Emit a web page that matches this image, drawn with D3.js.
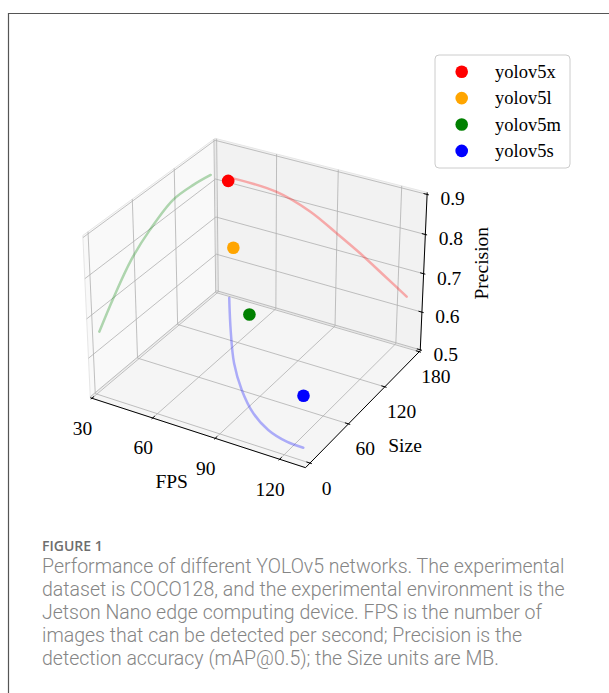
<!DOCTYPE html>
<meta charset="UTF-8">
<style>
body { margin: 0; background: #fff; }
.tick text, .lbl { font: 19.5px "Liberation Serif", "Times New Roman", serif; fill: #000; }
.legend text { font: 18.5px "Liberation Serif", "Times New Roman", serif; fill: #000; }
.caption { font-family: Roboto, "Open Sans", sans-serif; fill: #858585; font-size: 19.5px; font-weight: 300; }
.caption-title { font-family: "Open Sans", sans-serif; fill: #6e6e6e; font-size: 14px; font-weight: 600; }
.grid { stroke: #b0b0b0; stroke-width: 0.8; fill: none; }
.axis-line { stroke: #000; stroke-width: 1; fill: none; }
</style>
<body>
<script src="https://d3js.org/d3.v7.min.js"></script>
<script>

// models and their measured values
var models = ["yolov5x", "yolov5l", "yolov5m", "yolov5s"];
var colors = ["red", "orange", "green", "blue"];
var fps = [38.2, 67.8, 91.0, 124.2];
var sizeMB = [174, 90, 41, 14.4];
var precision = [0.817, 0.799, 0.737, 0.630];

// fitted curves drawn on the walls
var redFps = [38.3, 60.1, 76.7, 89.9, 101.4, 112.8, 124.3];
var redPrec = [0.814, 0.8085, 0.781, 0.743, 0.708, 0.669, 0.629];
var greenSize = [9.0, 29.7, 55.6, 83.0, 117.4, 147.8, 174.3];
var greenPrec = [0.644, 0.6996, 0.759, 0.798, 0.829, 0.828, 0.820];
var blueFps = [37.1, 51.9, 67.3, 80.9, 94.1, 105.6, 116.3, 124.2];
var blueSize = [177.6, 134.0, 91.5, 60.8, 36.8, 22.6, 15.9, 15.1];

// ticks
var fpsTicks = [30, 60, 90, 120];
var sizeTicks = [0, 60, 120, 180];
var precTicks = [0.5, 0.6, 0.7, 0.8, 0.9];

var captionLines = [
  "Performance of different YOLOv5 networks. The experimental",
  "dataset is COCO128, and the experimental environment is the",
  "Jetson Nano edge computing device. FPS is the number of",
  "images that can be detected per second; Precision is the",
  "detection accuracy (mAP@0.5); the Size units are MB."
];

// pane extents (axis limits incl. the small 3d padding)
var xPane = [29.2, 131.8],
    yPane = [-6.8, 181.7],
    zPane = [0.4975, 0.905];

var W = 609, H = 693;
var svg = d3.select("body").append("svg")
    .attr("width", W).attr("height", H);

// ---------- 3d projection (same maths as mplot3d) ----------
var view = {elev: 30, azim: -60, dist: 10};
var aspect = [4, 4, 3];
var an = Math.hypot(aspect[0], aspect[1], aspect[2]);
var box = aspect.map(function(a) { return a * 1.8294640721620434 / an; });
var R = box.map(function(b) { return b / 2; });

function dot(a, b) { return a[0]*b[0] + a[1]*b[1] + a[2]*b[2]; }
function cross(a, b) {
  return [a[1]*b[2] - a[2]*b[1], a[2]*b[0] - a[0]*b[2], a[0]*b[1] - a[1]*b[0]];
}
function unit(a) { var l = Math.hypot(a[0], a[1], a[2]); return a.map(function(c) { return c / l; }); }

var el = view.elev * Math.PI / 180, az = view.azim * Math.PI / 180;
var nv = [Math.cos(el) * Math.cos(az), Math.cos(el) * Math.sin(az), Math.sin(el)];
var uv = unit(cross([0, 0, 1], nv));
var vv = cross(nv, uv);

var xS = d3.scaleLinear().domain(xPane).range([0, box[0]]);
var yS = d3.scaleLinear().domain(yPane).range([0, box[1]]);
var zS = d3.scaleLinear().domain(zPane).range([0, box[2]]);

// the square 2d axes that holds the projected view
var ax = {left: 53.2, top: 101.2, size: 399.2};
var sx = d3.scaleLinear().domain([-0.095, 0.09]).range([ax.left, ax.left + ax.size]);
var sy = d3.scaleLinear().domain([-0.095, 0.09]).range([ax.top + ax.size, ax.top]);

function depth(x, y, z) {
  var q = [xS(x) - R[0], yS(y) - R[1], zS(z) - R[2]];
  return view.dist - dot(nv, q);
}
function project(x, y, z) {
  var q = [xS(x) - R[0], yS(y) - R[1], zS(z) - R[2]];
  var w = view.dist - dot(nv, q);
  return [sx(dot(uv, q) / w), sy(dot(vv, q) / w)];
}

var line = d3.line();
var x0 = xPane[0], x1 = xPane[1], y0 = yPane[0], y1 = yPane[1], z0 = zPane[0], z1 = zPane[1];

// ---------- panes ----------
var panes = [
  {fill: "#f2f2f2", pts: [[x0,y1,z0],[x1,y1,z0],[x1,y1,z1],[x0,y1,z1]]},  // back
  {fill: "#f9f9f9", pts: [[x0,y0,z0],[x0,y1,z0],[x0,y1,z1],[x0,y0,z1]]},  // left
  {fill: "#f5f5f5", pts: [[x0,y0,z0],[x1,y0,z0],[x1,y1,z0],[x0,y1,z0]]}   // floor
];
svg.selectAll("path.pane").data(panes).enter().append("path")
    .attr("class", "pane")
    .attr("d", function(p) { return line(p.pts.map(function(c) { return project(c[0], c[1], c[2]); })) + "Z"; })
    .attr("fill", function(p) { return p.fill; })
    .attr("stroke", "#e6e6e6")
    .attr("stroke-width", 1);

// ---------- grid ----------
var gridSegs = [];
fpsTicks.forEach(function(t) {
  gridSegs.push([[t,y0,z0],[t,y1,z0]]);
  gridSegs.push([[t,y1,z0],[t,y1,z1]]);
});
sizeTicks.forEach(function(t) {
  gridSegs.push([[x0,t,z0],[x1,t,z0]]);
  gridSegs.push([[x0,t,z0],[x0,t,z1]]);
});
precTicks.forEach(function(t) {
  gridSegs.push([[x0,y1,t],[x1,y1,t]]);
  gridSegs.push([[x0,y0,t],[x0,y1,t]]);
});
svg.append("g").selectAll("path").data(gridSegs).enter().append("path")
    .attr("class", "grid")
    .attr("d", function(s) { return line(s.map(function(c) { return project(c[0], c[1], c[2]); })); });

// ---------- axis lines, ticks, labels ----------
var dx = (x1 - x0) / 12.5, dy = (y1 - y0) / 12.5;
var axes = svg.append("g");

function drawAxis(a, b, ticks, tickSeg, at, off, fmt) {
  axes.append("path").attr("class", "axis-line").attr("d", line([a, b]));
  var g = axes.selectAll(null).data(ticks).enter().append("g").attr("class", "tick");
  g.append("path").attr("class", "axis-line")
      .attr("d", function(t) { return line(tickSeg(t)); });
  g.append("text")
      .attr("x", function(t) { return at(t)[0] + off[0]; })
      .attr("y", function(t) { return at(t)[1] + off[1]; })
      .attr("text-anchor", "middle")
      .attr("dominant-baseline", "central")
      .text(fmt);
}

drawAxis(project(x0, y0, z0), project(x1, y0, z0), fpsTicks,
  function(t) { return [project(t, y0 + 0.2 * dy, z0), project(t, y0 - 0.1 * dy, z0)]; },
  function(t) { return project(t, y0, z0); }, [-9.5, 30], d3.format("d"));

drawAxis(project(x1, y0, z0), project(x1, y1, z0), sizeTicks,
  function(t) { return [project(x1 - 0.2 * dx, t, z0), project(x1 + 0.1 * dx, t, z0)]; },
  function(t) { return project(x1, t, z0); }, [16.7, 25], d3.format("d"));

drawAxis(project(x1, y1, z0), project(x1, y1, z1), precTicks,
  function(t) { return [project(x1 - 0.2 * dx, y1, t), project(x1 + 0.1 * dx, y1, t)]; },
  function(t) { return project(x1, y1, t); }, [25.5, 4.5], d3.format(".1f"));

var fpsMid = project((x0 + x1) / 2, y0, z0);
svg.append("text").attr("class", "lbl")
    .attr("x", fpsMid[0] - 23.5).attr("y", fpsMid[1] + 50)
    .attr("text-anchor", "middle").attr("dominant-baseline", "central")
    .text("FPS");
var sizeMid = project(x1, (y0 + y1) / 2, z0);
svg.append("text").attr("class", "lbl")
    .attr("x", sizeMid[0] + 39.7).attr("y", sizeMid[1] + 39.3)
    .attr("text-anchor", "middle").attr("dominant-baseline", "central")
    .text("Size");
var precMid = project(x1, y1, (z0 + z1) / 2);
svg.append("text").attr("class", "lbl")
    .attr("transform", "translate(" + (precMid[0] + 58) + "," + (precMid[1] - 10) + ") rotate(-90)")
    .attr("text-anchor", "middle").attr("dominant-baseline", "central")
    .text("Precision");

// ---------- wall curves ----------
var curve = d3.line().curve(d3.curveCatmullRom);
var curves = [
  {color: "red", pts: redFps.map(function(f, i) { return project(f, y1, redPrec[i]); })},
  {color: "green", pts: greenSize.map(function(s, i) { return project(x0, s, greenPrec[i]); })},
  {color: "blue", pts: blueFps.map(function(f, i) { return project(f, blueSize[i], z0); })}
];
svg.append("g").selectAll("path").data(curves).enter().append("path")
    .attr("d", function(c) { return curve(c.pts); })
    .attr("fill", "none")
    .attr("stroke", function(c) { return c.color; })
    .attr("stroke-opacity", 0.3)
    .attr("stroke-width", 2.5)
    .attr("stroke-linecap", "round");

// ---------- scatter points (far ones first) ----------
var pts = models.map(function(m, i) {
  return {name: m, color: colors[i], p: project(fps[i], sizeMB[i], precision[i]),
          w: depth(fps[i], sizeMB[i], precision[i])};
}).sort(function(a, b) { return b.w - a.w; });

svg.append("g").selectAll("circle").data(pts).enter().append("circle")
    .attr("cx", function(d) { return d.p[0]; })
    .attr("cy", function(d) { return d.p[1]; })
    .attr("r", 6.3)
    .attr("fill", function(d) { return d.color; });

// ---------- legend ----------
var legend = svg.append("g").attr("class", "legend").attr("transform", "translate(435,55)");
legend.append("rect")
    .attr("width", 135).attr("height", 113).attr("rx", 4)
    .attr("fill", "#fff").attr("stroke", "#cccccc");
var rows = legend.selectAll("g.row").data(models).enter().append("g")
    .attr("transform", function(d, i) { return "translate(0," + (16.7 + i * 26.4) + ")"; });
rows.append("circle").attr("cx", 26.7).attr("r", 6.3)
    .attr("fill", function(d, i) { return colors[i]; });
rows.append("text").attr("x", 60).attr("dominant-baseline", "central").text(function(d) { return d; });

// ---------- frame and caption ----------
svg.append("path")
    .attr("d", "M" + W + ",13.5H8.5V" + H)
    .attr("fill", "none").attr("stroke", "#555").attr("stroke-width", 1.2);

svg.append("text").attr("class", "caption-title")
    .attr("x", 42).attr("y", 545).attr("dominant-baseline", "central")
    .text("FIGURE 1");

svg.append("g").selectAll("text").data(captionLines).enter().append("text")
    .attr("class", "caption")
    .attr("x", 42)
    .attr("y", function(d, i) { return 572.5 + i * 23; })
    .text(function(d) { return d; });

</script>
</body>
